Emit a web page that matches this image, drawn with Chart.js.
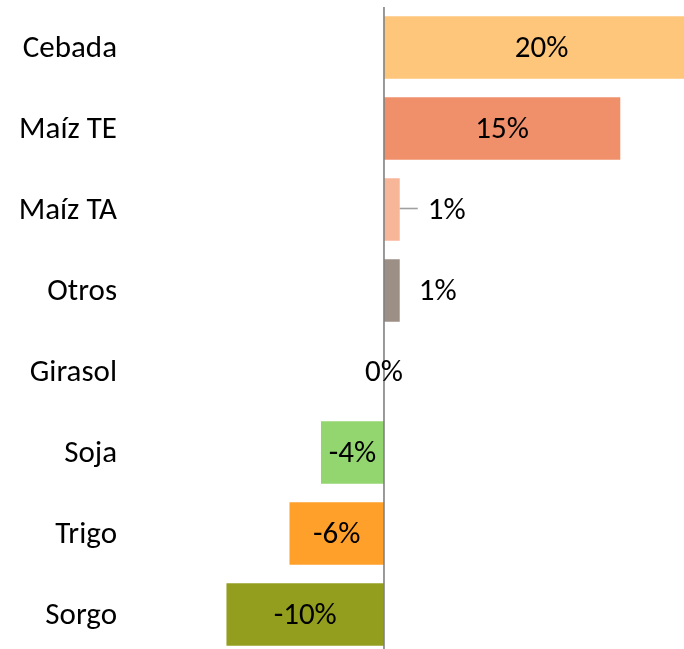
<!DOCTYPE html>
<html>
<head>
<meta charset="utf-8">
<script src="https://cdn.jsdelivr.net/npm/chart.js@4/dist/chart.umd.min.js"></script>
<style>
html,body{margin:0;padding:0;overflow:hidden;background:#fff;width:684px;height:649px;}
canvas{position:absolute;left:0;top:0;}
</style>
</head>
<body>
<canvas id="c" width="720" height="660"></canvas>
<script>
const categories = ["Cebada", "Maíz TE", "Maíz TA", "Otros", "Girasol", "Soja", "Trigo", "Sorgo"];
const values = [20, 15, 1, 1, 0, -4, -6, -10];
const valueLabels = ["20%", "15%", "1%", "1%", "0%", "-4%", "-6%", "-10%"];
const colors = ["#FEC67B", "#F0906B", "#F8B699", "#9C8F86", "#FFFFFF", "#93D56E", "#FFA02B", "#939E1F"];

const FONT = "Carlito, Calibri, Lato, sans-serif";

// label placement style: 'c' = centered on bar, 'o' = outside end, 'L' = outside with leader line
const labelMode = ["c", "c", "L", "o", "c", "c", "c", "c"];

const labelPlugin = {
  id: 'labels',
  afterDatasetsDraw(chart) {
    const ctx = chart.ctx;
    const xs = chart.scales.x;
    const meta = chart.getDatasetMeta(0);
    const x0 = xs.getPixelForValue(0);
    ctx.save();
    ctx.strokeStyle = "#808080";
    ctx.lineWidth = 1.6;
    ctx.beginPath();
    ctx.moveTo(x0, chart.chartArea.top);
    ctx.lineTo(x0, chart.chartArea.bottom + 10);
    ctx.stroke();
    ctx.font = "31px " + FONT;
    ctx.fillStyle = "#000";
    ctx.textBaseline = "middle";
    meta.data.forEach((bar, i) => {
      const y = bar.y + 2;
      const mode = labelMode[i];
      const txt = valueLabels[i];
      if (mode === "c") {
        ctx.textAlign = "center";
        ctx.fillText(txt, (bar.x + bar.base) / 2, y);
      } else if (mode === "o") {
        ctx.textAlign = "left";
        ctx.fillText(txt, bar.x + 19, y);
      } else {
        ctx.strokeStyle = "#A0A0A0";
        ctx.lineWidth = 1.6;
        ctx.beginPath();
        ctx.moveTo(bar.x, bar.y - 1);
        ctx.lineTo(bar.x + 18, bar.y - 1);
        ctx.stroke();
        ctx.textAlign = "left";
        ctx.fillText(txt, bar.x + 28, y);
      }
    });
    ctx.restore();
  }
};

new Chart(document.getElementById('c'), {
  type: 'bar',
  data: {
    labels: categories,
    datasets: [{
      data: values,
      backgroundColor: colors,
      borderWidth: 0,
      categoryPercentage: 1,
      barPercentage: 0.772
    }]
  },
  options: {
    indexAxis: 'y',
    responsive: false,
    animation: false,
    devicePixelRatio: 1,
    layout: { padding: { top: 7, bottom: 5, left: 0, right: 0 } },
    plugins: { legend: { display: false }, tooltip: { enabled: false } },
    scales: {
      x: {
        display: false,
        min: -16.44,
        max: 21.33
      },
      y: {
        grid: { display: false, drawTicks: false },
        border: { display: false },
        ticks: {
          color: "#000",
          padding: 8,
          labelOffset: 2,
          font: { family: FONT, size: 31 }
        },
        afterFit(scale) {
          scale.width = 125;
          scale.paddingTop = 0;
          scale.paddingBottom = 0;
        }
      }
    }
  },
  plugins: [labelPlugin]
});
</script>
</body>
</html>
